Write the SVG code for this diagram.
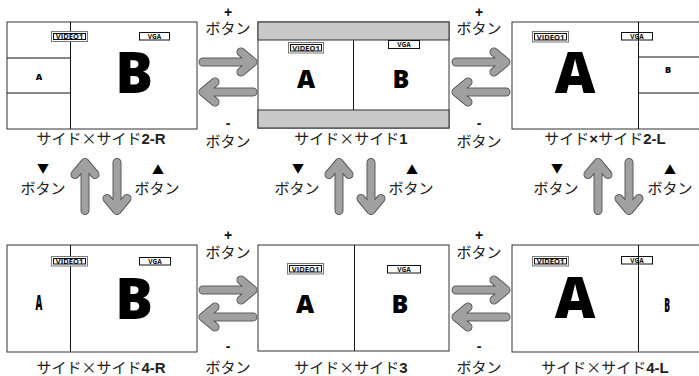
<svg xmlns="http://www.w3.org/2000/svg" xmlns:xlink="http://www.w3.org/1999/xlink" width="699" height="376" viewBox="0 0 699 376">
<style>
.panel{fill:#fff;stroke:#333;stroke-width:1}
.band{fill:#c8c8c8;stroke:#333;stroke-width:1}
.dv{stroke:#111;stroke-width:1;fill:none}
.lo{fill:#fff;stroke:#777;stroke-width:1}
.li{fill:none;stroke:#111;stroke-width:1}
.lt{font-family:"Open Sans","Liberation Sans",sans-serif;font-weight:700;font-size:7.5px;text-anchor:middle;fill:#111}
.big{font-family:"Open Sans","Liberation Sans",sans-serif;font-weight:800;text-anchor:middle;fill:#000}
.cap{font-family:"Noto Sans CJK JP","Noto Sans",sans-serif;font-size:15px;text-anchor:middle;fill:#222}
.b{font-family:"Liberation Sans","Noto Sans CJK JP",sans-serif;font-weight:700}
.sym{font-family:"Liberation Sans","Noto Sans CJK JP",sans-serif;font-weight:700;font-size:14px;text-anchor:middle;fill:#111}
.tri{font-family:"Noto Sans CJK JP","DejaVu Sans",sans-serif;font-size:12px;text-anchor:middle;fill:#000}
.ao{fill:none;stroke:#5a5a5a;stroke-width:9;stroke-linecap:round;stroke-linejoin:round}
.ai{fill:none;stroke:#a0a0a0;stroke-width:7;stroke-linecap:round;stroke-linejoin:round}
</style>
<defs>
<g id="ar"><path class="ao" d="M-25,0 H25 M13,-10 L25,0 L13,10"/><path class="ai" d="M-25,0 H25 M13,-10 L25,0 L13,10"/></g>
<g id="al"><path class="ao" d="M25,0 H-25 M-13,-10 L-25,0 L-13,10"/><path class="ai" d="M25,0 H-25 M-13,-10 L-25,0 L-13,10"/></g>
<g id="au"><path class="ao" d="M0,24 V-24 M-10,-12 L0,-24 L10,-12"/><path class="ai" d="M0,24 V-24 M-10,-12 L0,-24 L10,-12"/></g>
<g id="ad"><path class="ao" d="M0,-24 V24 M-10,12 L0,24 L10,12"/><path class="ai" d="M0,-24 V24 M-10,12 L0,24 L10,12"/></g>
</defs>
<rect width="699" height="376" fill="#fff"/>

<g id="panel-2R">
<rect class="panel" x="7" y="22" width="190" height="107"/>
<path class="dv" d="M70.5,22 V129 M7,58 H70.5 M7,93 H70.5"/>
<rect class="lo" x="51.5" y="31.5" width="36" height="10"/><rect class="li" x="53.5" y="33.5" width="32" height="6"/>
<text class="lt" x="69.5" y="39.4">VIDEO1</text>
<rect class="li" x="139.5" y="32.5" width="30" height="7.5"/>
<text class="lt" x="154.5" y="38.8" style="font-size:6.5px">VGA</text>
<text class="big" x="39" y="80" style="font-size:9px">A</text>
<text class="big" x="134" y="93" style="font-size:56px">B</text>
<text class="cap" x="101" y="143.5">サイド×サイド<tspan class="b">2-R</tspan></text>
</g>

<g id="panel-1">
<rect class="panel" x="258" y="22" width="191" height="106"/>
<rect class="band" x="258" y="22" width="191" height="18"/>
<rect class="band" x="258" y="110" width="191" height="18"/>
<path class="dv" d="M353.5,40 V110"/>
<rect class="lo" x="288.5" y="42.5" width="35" height="10.5"/><rect class="li" x="290.5" y="44.5" width="31" height="6.5"/>
<text class="lt" x="306" y="50.6">VIDEO1</text>
<rect class="li" x="388.5" y="40.5" width="31" height="8"/>
<text class="lt" x="404" y="47" style="font-size:6.5px">VGA</text>
<text class="big" x="306" y="88" style="font-size:25px">A</text>
<text class="big" x="401" y="88" style="font-size:25px">B</text>
<text class="cap" x="351" y="143.5">サイド×サイド<tspan class="b">1</tspan></text>
</g>

<g id="panel-2L">
<rect class="panel" x="512" y="22" width="190" height="107"/>
<path class="dv" d="M638.5,22 V129 M638.5,57 H702 M638.5,93 H702"/>
<rect class="lo" x="532.5" y="31.5" width="36" height="10.5"/><rect class="li" x="534.5" y="33.5" width="32" height="6.5"/>
<text class="lt" x="550.5" y="39.6">VIDEO1</text>
<rect class="li" x="621.5" y="32.5" width="31" height="7.5"/>
<text class="lt" x="637" y="38.8" style="font-size:6.5px">VGA</text>
<text class="big" x="575" y="93" style="font-size:56px">A</text>
<text class="big" x="668" y="73" style="font-size:9px">B</text>
<text class="cap" x="605" y="143.5">サイド<tspan class="b">×</tspan>サイド<tspan class="b">2-L</tspan></text>
</g>

<g id="panel-4R">
<rect class="panel" x="7" y="245" width="190" height="107"/>
<path class="dv" d="M70.5,245 V352"/>
<rect class="lo" x="51.5" y="256.5" width="36" height="9.5"/><rect class="li" x="53.5" y="258.5" width="32" height="5.5"/>
<text class="lt" x="69.5" y="264.2">VIDEO1</text>
<rect class="li" x="139.5" y="257.5" width="31" height="7.5"/>
<text class="lt" x="155" y="263.8" style="font-size:6.5px">VGA</text>
<text class="big" transform="translate(39,310) scale(0.45,1)" x="0" y="0" style="font-size:21px">A</text>
<text class="big" x="134" y="319" style="font-size:56px">B</text>
<text class="cap" x="101" y="372.5">サイド×サイド<tspan class="b">4-R</tspan></text>
</g>

<g id="panel-3">
<rect class="panel" x="258" y="245" width="191" height="106"/>
<path class="dv" d="M354.5,245 V351"/>
<rect class="lo" x="287.5" y="263.5" width="36" height="10.5"/><rect class="li" x="289.5" y="265.5" width="32" height="6.5"/>
<text class="lt" x="305.5" y="271.6">VIDEO1</text>
<rect class="li" x="387.5" y="265.5" width="33" height="7.5"/>
<text class="lt" x="404" y="271.8" style="font-size:6.5px">VGA</text>
<text class="big" x="305" y="313" style="font-size:25px">A</text>
<text class="big" x="400" y="313" style="font-size:25px">B</text>
<text class="cap" x="351" y="372.5">サイド×サイド<tspan class="b">3</tspan></text>
</g>

<g id="panel-4L">
<rect class="panel" x="512" y="245" width="190" height="107"/>
<path class="dv" d="M638.5,245 V352"/>
<rect class="lo" x="532.5" y="256.5" width="36" height="9.5"/><rect class="li" x="534.5" y="258.5" width="32" height="5.5"/>
<text class="lt" x="550.5" y="264.2">VIDEO1</text>
<rect class="li" x="621.5" y="256.5" width="31" height="7.5"/>
<text class="lt" x="637" y="262.8" style="font-size:6.5px">VGA</text>
<text class="big" x="575" y="318" style="font-size:56px">A</text>
<text class="big" transform="translate(667,312) scale(0.45,1)" x="0" y="0" style="font-size:19px">B</text>
<text class="cap" x="605" y="372.5">サイド×サイド<tspan class="b">4-L</tspan></text>
</g>

<g id="connectors">
<use xlink:href="#ar" x="228" y="62"/>
<use xlink:href="#al" x="228" y="92"/>
<use xlink:href="#ar" x="481" y="62"/>
<use xlink:href="#al" x="481" y="92"/>
<use xlink:href="#ar" x="228" y="290"/>
<use xlink:href="#al" x="228" y="317"/>
<use xlink:href="#ar" x="481" y="290"/>
<use xlink:href="#al" x="481" y="317"/>
<use xlink:href="#au" x="85" y="186.5"/>
<use xlink:href="#ad" x="117" y="186.5"/>
<use xlink:href="#au" x="339" y="186.5"/>
<use xlink:href="#ad" x="371" y="186.5"/>
<use xlink:href="#au" x="598" y="186.5"/>
<use xlink:href="#ad" x="629" y="186.5"/>
</g>

<g id="labels">
<text class="sym" x="228" y="17">+</text>
<text class="cap" x="228" y="33.5">ボタン</text>
<text class="sym" x="228" y="128">-</text>
<text class="cap" x="228" y="146.5">ボタン</text>
<text class="sym" x="479" y="17">+</text>
<text class="cap" x="479" y="33.5">ボタン</text>
<text class="sym" x="479" y="128">-</text>
<text class="cap" x="479" y="146.5">ボタン</text>
<text class="sym" x="228" y="240">+</text>
<text class="cap" x="228" y="257.5">ボタン</text>
<text class="sym" x="228" y="351">-</text>
<text class="cap" x="228" y="372.5">ボタン</text>
<text class="sym" x="479" y="240">+</text>
<text class="cap" x="479" y="257.5">ボタン</text>
<text class="sym" x="479" y="351">-</text>
<text class="cap" x="479" y="372.5">ボタン</text>
<text class="tri" x="43" y="172.5">▼</text>
<text class="cap" x="43" y="193.5">ボタン</text>
<text class="tri" x="158" y="174.5">▲</text>
<text class="cap" x="157" y="193.5">ボタン</text>
<text class="tri" x="298" y="172.5">▼</text>
<text class="cap" x="297" y="193.5">ボタン</text>
<text class="tri" x="412" y="174.5">▲</text>
<text class="cap" x="411" y="193.5">ボタン</text>
<text class="tri" x="557" y="172.5">▼</text>
<text class="cap" x="556" y="193.5">ボタン</text>
<text class="tri" x="670" y="174.5">▲</text>
<text class="cap" x="670" y="193.5">ボタン</text>
</g>
</svg>
